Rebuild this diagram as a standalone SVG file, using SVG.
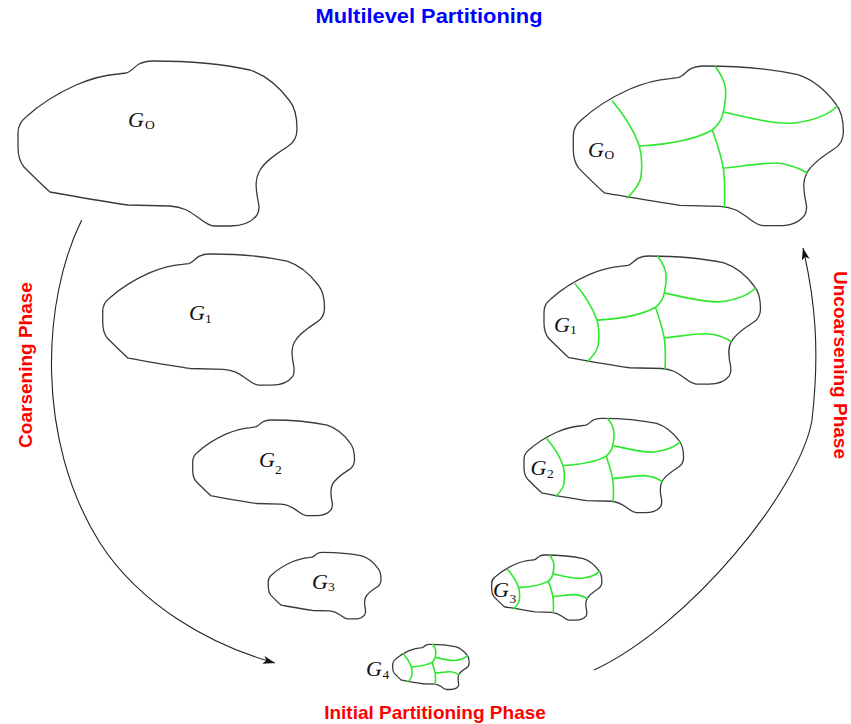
<svg xmlns="http://www.w3.org/2000/svg" xmlns:xlink="http://www.w3.org/1999/xlink" width="851" height="724" viewBox="0 0 851 724">
<style>
.outline{fill:#fff;stroke:#3a3a3a;stroke-width:1.3;vector-effect:non-scaling-stroke;stroke-linejoin:round}
.parts{fill:none;stroke:#2de82d;stroke-width:1.6;vector-effect:non-scaling-stroke;stroke-linecap:round}
.g{font-family:"Liberation Serif","Times New Roman",serif;font-style:italic;font-size:22px;fill:#111}
.sub{font-family:"Liberation Serif","Times New Roman",serif;font-size:13.5px;fill:#111}
.phase{font-family:"Liberation Sans",Arial,sans-serif;font-weight:bold;font-size:19px;fill:#ff0000;text-anchor:middle}
.title{font-family:"Liberation Sans",Arial,sans-serif;font-weight:bold;font-size:20px;fill:#0000ff;text-anchor:middle}
.conn{fill:none;stroke:#222;stroke-width:1.1}
</style>
<defs>
<path id="blob" class="outline" d="M 108 12 C 113 11, 116 6, 121 3 C 125 1, 129 0, 135 0 C 170 0, 205 3, 232 9 C 250 15, 262 27, 271 39 C 277 46, 279 55, 279 68 C 279 76, 276 82, 269 86 C 258 93, 246 101, 241 111 C 237 119, 238 126, 239 134 C 240 141, 243 147, 239 154 C 234 161, 224 165, 212 165 L 196 165 C 188 164, 184 159, 178 155 C 171 150, 165 146, 152 145 L 110 144 C 82 140, 55 135, 32 131 C 24 124, 14 114, 6 106 C 1 100, 0 94, 0 86 L 0 72 C 0 64, 3 60, 8 56 C 20 45, 38 33, 58 24 C 72 18, 86 14, 100 13 Z"/>
<path id="parts" class="parts" d="M 40.3 36.2 C 52 50, 63 68, 68 82 C 71 92, 71 105, 70 114 C 69 122, 62 130, 55.8 136.4 M 69.2 82.6 C 95 81, 125 77, 143.6 66.1 C 150 61, 154 54, 155 47.5 M 155 47.5 C 157 38, 158 28, 157 22 C 156 15, 152 8, 146.7 0.6 M 155 47.5 C 180 53, 205 60, 227 59 C 245 57, 262 52, 272.7 41.3 M 143.6 66.1 C 148 79, 154 95, 155.5 110 C 157 125, 156.5 135, 156 145.7 M 156 105.4 C 175 103.5, 195 100, 210 100.2 C 222 101, 235 106, 241.7 110.5"/>
<marker id="arrow" viewBox="0 0 12 8" refX="12" refY="4" markerWidth="12" markerHeight="8" orient="auto" markerUnits="userSpaceOnUse">
<path d="M 0 0 L 12 4 L 0 8 L 3 4 Z" fill="#111"/>
</marker>
</defs>
<rect width="851" height="724" fill="#fff"/>
<text class="title" x="429" y="23" textLength="227" lengthAdjust="spacingAndGlyphs">Multilevel Partitioning</text>
<g id="connectors">
<path class="conn" d="M 81.7 220 C 42 300, 35 440, 100 543 C 140 605, 210 645, 275 663" marker-end="url(#arrow)"/>
<path class="conn" d="M 594 670 C 690 625, 800 490, 812 420 C 820 350, 815 300, 803 248" marker-end="url(#arrow)"/>
</g>
<g id="coarse-G0">
<use xlink:href="#blob" href="#blob" transform="translate(18,61)"/>
<text class="g" x="128" y="127">G</text><text class="sub" x="145" y="128.5">O</text>
</g>
<g id="coarse-G1">
<use xlink:href="#blob" href="#blob" transform="translate(102.7,254) scale(0.795)"/>
<text class="g" x="189" y="320">G</text><text class="sub" x="205" y="322.5">1</text>
</g>
<g id="coarse-G2">
<use xlink:href="#blob" href="#blob" transform="translate(192.7,420) scale(0.58)"/>
<text class="g" x="259" y="466.5">G</text><text class="sub" x="275" y="474">2</text>
</g>
<g id="coarse-G3">
<use xlink:href="#blob" href="#blob" transform="translate(268.3,552.3) scale(0.404)"/>
<text class="g" x="312" y="588.5">G</text><text class="sub" x="328" y="591">3</text>
</g>
<g id="initial-G4">
<use xlink:href="#blob" href="#blob" transform="translate(392.7,644.3) scale(0.274)"/>
<use xlink:href="#parts" href="#parts" transform="translate(392.7,644.3) scale(0.274)"/>
<text class="g" x="366" y="676">G</text><text class="sub" x="382.5" y="678.5">4</text>
</g>
<g id="uncoarse-G3">
<use xlink:href="#blob" href="#blob" transform="translate(491.7,555) scale(0.395)"/>
<use xlink:href="#parts" href="#parts" transform="translate(491.7,555) scale(0.395)"/>
<text class="g" x="493" y="597">G</text><text class="sub" x="509.5" y="603">3</text>
</g>
<g id="uncoarse-G2">
<use xlink:href="#blob" href="#blob" transform="translate(524,418.3) scale(0.572)"/>
<use xlink:href="#parts" href="#parts" transform="translate(524,418.3) scale(0.572)"/>
<text class="g" x="530.5" y="475">G</text><text class="sub" x="547" y="477.5">2</text>
</g>
<g id="uncoarse-G1">
<use xlink:href="#blob" href="#blob" transform="translate(544,256) scale(0.776)"/>
<use xlink:href="#parts" href="#parts" transform="translate(544,256) scale(0.776)"/>
<text class="g" x="554" y="331.5">G</text><text class="sub" x="570" y="333.5">1</text>
</g>
<g id="uncoarse-G0">
<use xlink:href="#blob" href="#blob" transform="translate(573.3,66) scale(0.968)"/>
<use xlink:href="#parts" href="#parts" transform="translate(573.3,66) scale(0.968)"/>
<text class="g" x="588" y="157">G</text><text class="sub" x="604.5" y="158.5">O</text>
</g>
<text class="phase" transform="translate(32,365) rotate(-90)">Coarsening Phase</text>
<text class="phase" transform="translate(834,365) rotate(90)">Uncoarsening Phase</text>
<text class="phase" x="435" y="718.5">Initial Partitioning Phase</text>
</svg>
